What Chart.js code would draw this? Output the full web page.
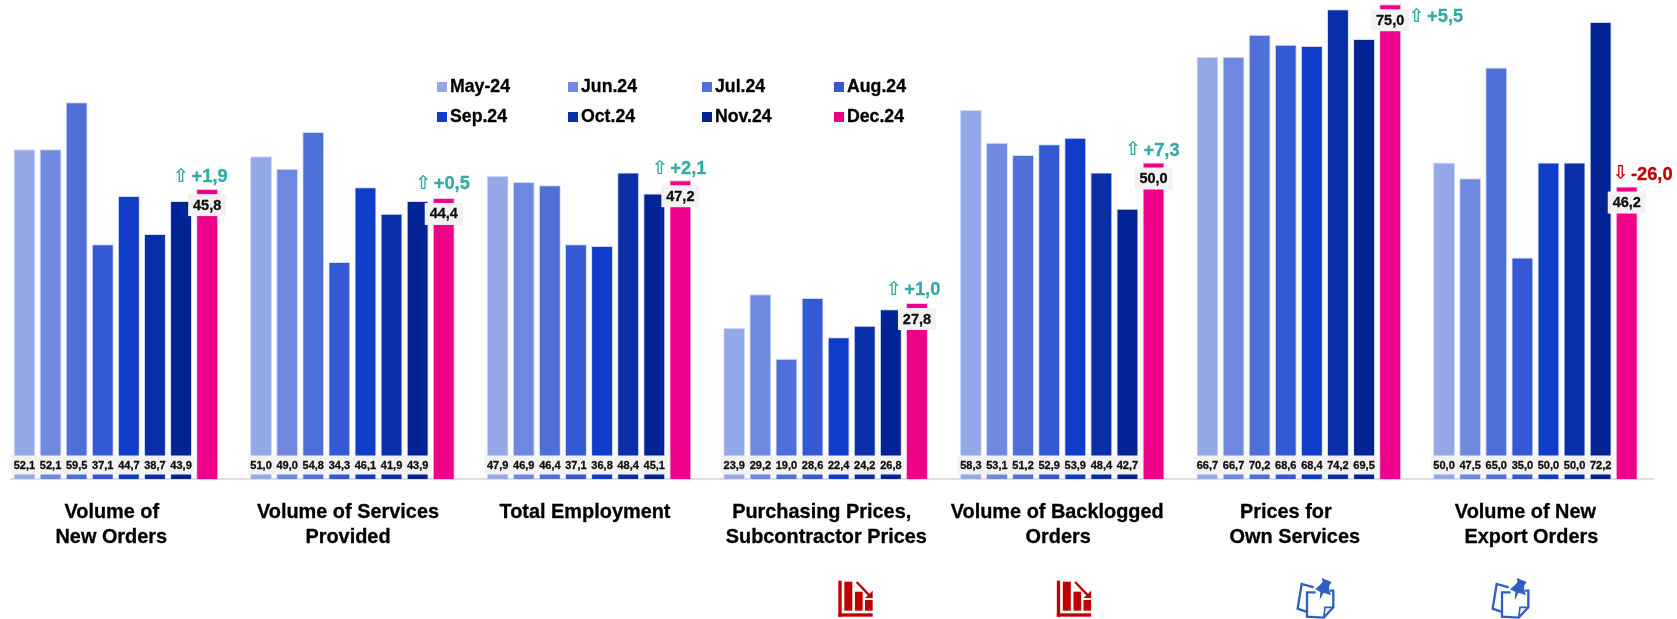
<!DOCTYPE html>
<html>
<head>
<meta charset="utf-8">
<style>
  html, body { margin: 0; padding: 0; background: #fff; }
  #wrap { position: relative; width: 1677px; height: 619px; overflow: hidden; }
  #pmiChart { position: absolute; left: -3px; top: 0; }
</style>
<script src="https://cdn.jsdelivr.net/npm/chart.js@4/dist/chart.umd.min.js"></script>
</head>
<body>
<div id="wrap"><canvas id="pmiChart" width="1680" height="619"></canvas></div>
<script>
var categories = [
  ['Volume of', 'New Orders'],
  ['Volume of Services', 'Provided'],
  ['Total Employment'],
  ['Purchasing Prices,', 'Subcontractor Prices'],
  ['Volume of Backlogged', 'Orders'],
  ['Prices for', 'Own Services'],
  ['Volume of New', 'Export Orders']
];
var months = ['May-24', 'Jun.24', 'Jul.24', 'Aug.24', 'Sep.24', 'Oct.24', 'Nov.24', 'Dec.24'];

var may24 = [52.1, 51.0, 47.9, 23.9, 58.3, 66.7, 50.0];
var jun24 = [52.1, 49.0, 46.9, 29.2, 53.1, 66.7, 47.5];
var jul24 = [59.5, 54.8, 46.4, 19.0, 51.2, 70.2, 65.0];
var aug24 = [37.1, 34.3, 37.1, 28.6, 52.9, 68.6, 35.0];
var sep24 = [44.7, 46.1, 36.8, 22.4, 53.9, 68.4, 50.0];
var oct24 = [38.7, 41.9, 48.4, 24.2, 48.4, 74.2, 50.0];
var nov24 = [43.9, 43.9, 45.1, 26.8, 42.7, 69.5, 72.2];
var dec24 = [45.8, 44.4, 47.2, 27.8, 50.0, 75.0, 46.2];
var changes = [1.9, 0.5, 2.1, 1.0, 7.3, 5.5, -26.0];

var seriesValues = [may24, jun24, jul24, aug24, sep24, oct24, nov24, dec24];
var seriesColors = ['#94a7e6', '#7089e0', '#4f6fd9', '#3558d4', '#0f3cc9', '#082fa8', '#012394', '#ee0089'];

// horizontal nudges for the text that doesn't sit centred on its group, one per title line
var titleNudge = [[-4, -4.5], [-4.4, -4.4], [-4], [-3.9, 0.7], [-5, -4], [-13, -4], [-10, -4]];
var changeNudge = [-5.5, 0, 0, -2.7, 0, 47, 17];
var changeLift = [12, 14, 11, 13, 12, -13, 12];

var FONT = '"Liberation Sans", Arial, sans-serif';
var TEAL = '#33aaa5';
var RED = '#c00000';
var SHIFT = 3; // canvas sits 3px left of the page so the first group can start where it should

function comma(v) {
  return v.toFixed(1).replace('.', ',');
}

// bold text with a hairline stroke, Liberation is a bit thin at these sizes
function heavyText(ctx, text, x, y, weight) {
  ctx.lineWidth = weight;
  ctx.strokeStyle = ctx.fillStyle;
  ctx.lineJoin = 'round';
  ctx.strokeText(text, x, y);
  ctx.fillText(text, x, y);
}

function labelBox(ctx, text, x, y, w, h, font) {
  ctx.fillStyle = '#f2f2f2';
  ctx.fillRect(x - w / 2, y - h / 2, w, h);
  ctx.fillStyle = '#0d0d0d';
  ctx.font = font;
  ctx.textAlign = 'center';
  ctx.textBaseline = 'middle';
  heavyText(ctx, text, x, y + 0.5, 0.3);
}

// falling bars pictogram, drawn on a 60x49 grid scaled by 3
function drawFallingIcon(ctx, ox, oy) {
  ctx.save();
  ctx.translate(ox, oy);
  ctx.scale(1 / 3, 1 / 3);
  ctx.fillStyle = '#c00000';
  ctx.strokeStyle = '#c00000';
  ctx.fillRect(40, 32, 10, 108);
  ctx.fillRect(40, 130, 103, 10);
  ctx.fillRect(58, 35, 24, 87);
  ctx.fillRect(90, 65, 23, 57);
  ctx.fillRect(120, 90, 23, 32);
  ctx.lineWidth = 7;
  ctx.beginPath();
  ctx.moveTo(95, 36);
  ctx.lineTo(133, 76);
  ctx.stroke();
  ctx.beginPath();
  ctx.moveTo(143, 84);
  ctx.lineTo(143, 62);
  ctx.lineTo(120, 84);
  ctx.closePath();
  ctx.fill();
  ctx.restore();
}

// two sheets of paper with a pin through them
function drawNoteIcon(ctx, ox, oy) {
  ctx.save();
  ctx.translate(ox, oy);
  ctx.scale(1 / 3, 1 / 3);
  ctx.strokeStyle = '#2f5fc4';
  ctx.fillStyle = '#2f5fc4';
  ctx.lineWidth = 7;
  ctx.lineJoin = 'miter';
  ctx.beginPath();
  ctx.moveTo(86, 52);
  ctx.lineTo(50, 42);
  ctx.lineTo(38, 116);
  ctx.lineTo(63, 125);
  ctx.stroke();
  ctx.beginPath();
  ctx.moveTo(92, 67);
  ctx.lineTo(66, 67);
  ctx.lineTo(66, 140);
  ctx.lineTo(116, 143);
  ctx.lineTo(145, 112);
  ctx.lineTo(145, 62);
  ctx.lineTo(133, 62);
  ctx.stroke();
  ctx.lineWidth = 5;
  ctx.beginPath();
  ctx.moveTo(145, 112);
  ctx.lineTo(120, 112);
  ctx.lineTo(116, 143);
  ctx.stroke();
  ctx.beginPath();
  ctx.moveTo(110, 24);
  ctx.lineTo(140, 36);
  ctx.lineTo(133, 46);
  ctx.lineTo(132, 60);
  ctx.lineTo(138, 76);
  ctx.lineTo(116, 68);
  ctx.lineTo(104, 90);
  ctx.lineTo(106, 66);
  ctx.lineTo(90, 58);
  ctx.lineTo(104, 46);
  ctx.lineTo(113, 36);
  ctx.closePath();
  ctx.fill();
  ctx.restore();
}

var annotations = {
  id: 'annotations',
  beforeDatasetsDraw: function(chart) {
    var ctx = chart.ctx;
    var y0 = chart.scales.y.getPixelForValue(0);
    ctx.fillStyle = '#dedede';
    ctx.fillRect(10 + SHIFT, y0 - 1, 1644, 2);
  },
  afterDatasetsDraw: function(chart) {
    var ctx = chart.ctx;
    var yScale = chart.scales.y;
    var xScale = chart.scales.x;
    var y0 = yScale.getPixelForValue(0);
    ctx.save();

    // value strip at the foot of the bars, May to Nov
    for (var s = 0; s < seriesValues.length - 1; s++) {
      chart.getDatasetMeta(s).data.forEach(function(bar, i) {
        labelBox(ctx, comma(seriesValues[s][i]), bar.x, y0 - 14, 26.2, 19, 'bold 11px ' + FONT);
      });
    }

    // December value and the change against November
    chart.getDatasetMeta(seriesValues.length - 1).data.forEach(function(bar, i) {
      labelBox(ctx, comma(dec24[i]), bar.x, bar.y + 16, 38, 22, 'bold 14.5px ' + FONT);
      var up = changes[i] >= 0;
      ctx.fillStyle = up ? TEAL : RED;
      ctx.textBaseline = 'middle';
      ctx.textAlign = 'left';
      var arrow = up ? '\u21E7' : '\u21E9';
      var num = (up ? '+' : '-') + comma(Math.abs(changes[i]));
      ctx.font = 'bold 18.3px ' + FONT;
      var numWidth = ctx.measureText(num).width;
      var total = numWidth + 16;
      var left = bar.x + changeNudge[i] - total / 2;
      var y = bar.y - changeLift[i];
      heavyText(ctx, num, left + 16, y, 0.3);
      ctx.font = 'bold 19px "DejaVu Sans"';
      ctx.fillText(arrow, left - 2.5, y);
    });

    // group titles
    ctx.fillStyle = '#000';
    ctx.font = 'bold 19.9px ' + FONT;
    ctx.textAlign = 'center';
    ctx.textBaseline = 'middle';
    categories.forEach(function(lines, i) {
      var x = xScale.getPixelForValue(i);
      lines.forEach(function(line, k) {
        heavyText(ctx, line, x + titleNudge[i][k], 513 + k * 24.6, 0.3);
      });
    });

    // legend, four to a row
    var legendX = [437, 568, 702, 834];
    months.forEach(function(name, i) {
      var x = legendX[i % 4] + SHIFT;
      var y = i < 4 ? 87 : 117;
      ctx.fillStyle = seriesColors[i];
      ctx.fillRect(x, y - 5, 10, 10);
      ctx.fillStyle = '#000';
      ctx.font = 'bold 17.7px ' + FONT;
      ctx.textAlign = 'left';
      ctx.textBaseline = 'middle';
      heavyText(ctx, name, x + 13, y, 0.3);
    });

    drawFallingIcon(ctx, 825 + SHIFT, 570);
    drawFallingIcon(ctx, 1043.5 + SHIFT, 570);
    drawNoteIcon(ctx, 1285 + SHIFT, 570);
    drawNoteIcon(ctx, 1480 + SHIFT, 570);
    ctx.restore();
  }
};

var pmiChart = new Chart(document.getElementById('pmiChart').getContext('2d'), {
  type: 'bar',
  data: {
    labels: categories,
    datasets: seriesValues.map(function(values, i) {
      return {
        label: months[i],
        data: values,
        backgroundColor: seriesColors[i],
        borderColor: i === 7 ? 'rgba(255,140,200,0.6)' : 'rgba(190,205,250,0.75)',
        borderWidth: 1,
        barPercentage: 0.84,
        categoryPercentage: 0.8825
      };
    })
  },
  options: {
    responsive: false,
    animation: false,
    layout: { padding: { left: 0.5, right: 23.3, top: 0, bottom: 140 } },
    plugins: { legend: { display: false }, tooltip: { enabled: false } },
    scales: {
      x: { display: false },
      y: { display: false, min: 0, max: 75.67 }
    }
  },
  plugins: [annotations]
});
</script>
</body>
</html>
